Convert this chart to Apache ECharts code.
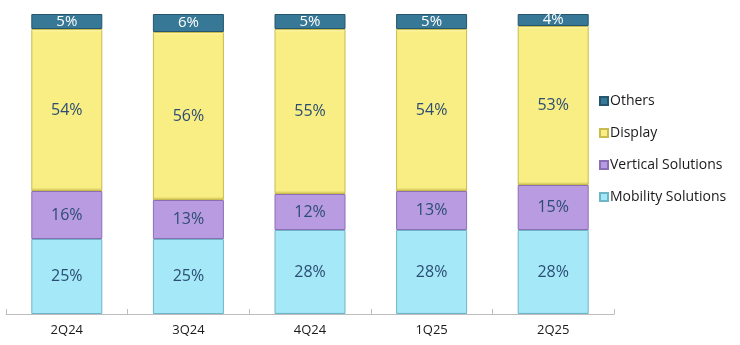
<!DOCTYPE html>
<html>
<head>
<meta charset="utf-8">
<script src="https://cdn.jsdelivr.net/npm/echarts@6/dist/echarts.min.js"></script>
<style>
html,body{margin:0;padding:0;background:#fff;}
#chart{width:740px;height:345px;}
</style>
</head>
<body>
<div id="chart"></div>
<script>
// Revenue mix by segment, share of quarterly total (%)
const quarters = ['2Q24', '3Q24', '4Q24', '1Q25', '2Q25'];
const mobility = [25, 25, 28, 28, 28];
const vertical = [16, 13, 12, 13, 15];
const display = [54, 56, 55, 54, 53];
const others = [5, 6, 5, 5, 4];

const FONT = '"Open Sans", "Noto Sans", sans-serif';

function segment(name, data, fill, edge, labelColor, size) {
  return {
    name: name,
    type: 'bar',
    stack: 'mix',
    barWidth: 71,
    data: data,
    itemStyle: {
      color: {
        type: 'linear', x: 0, y: 0, x2: 0, y2: 1,
        colorStops: [
          { offset: 0, color: fill[0] },
          { offset: 0.02, color: fill[1] },
          { offset: 0.98, color: fill[1] },
          { offset: 1, color: edge }
        ]
      },
      borderColor: edge,
      borderWidth: 1
    },
    label: {
      show: true,
      position: 'inside',
      formatter: '{c}%',
      color: labelColor,
      fontFamily: FONT,
      fontSize: size
    }
  };
}

const chart = echarts.init(document.getElementById('chart'));
chart.setOption({
  animation: false,
  backgroundColor: '#ffffff',
  grid: { left: 6, right: 126, top: 14, bottom: 31 },
  legend: {
    orient: 'vertical',
    left: 594,
    top: 89,
    itemWidth: 8,
    itemHeight: 8,
    itemGap: 18,
    icon: 'rect',
    data: ['Others', 'Display', 'Vertical Solutions', 'Mobility Solutions'],
    textStyle: { fontFamily: FONT, fontSize: 14, color: '#1a1a1a', padding: [0, 0, 0, -3] }
  },
  xAxis: {
    type: 'category',
    data: quarters,
    axisLine: { lineStyle: { color: '#bdbdbd' } },
    axisTick: { show: true, inside: true, length: 5, lineStyle: { color: '#bdbdbd' } },
    axisLabel: { fontFamily: FONT, fontSize: 13, color: '#1a1a1a', margin: 10 }
  },
  yAxis: {
    type: 'value',
    min: 0,
    max: 100,
    show: false,
    splitLine: { show: false }
  },
  series: [
    segment('Mobility Solutions', mobility, ['#c9f3fd', '#a5e8f8'], '#6fb5c8', '#2c4d73', 16),
    segment('Vertical Solutions', vertical, ['#d4bff0', '#b89be0'], '#8a6fb5', '#2c4d73', 16),
    segment('Display', display, ['#fcf6b8', '#f9ee83'], '#c9bb4e', '#2c4d73', 16),
    segment('Others', others, ['#5f9bb5', '#377896'], '#24566e', '#ffffff', 15)
  ]
});
</script>
</body>
</html>
